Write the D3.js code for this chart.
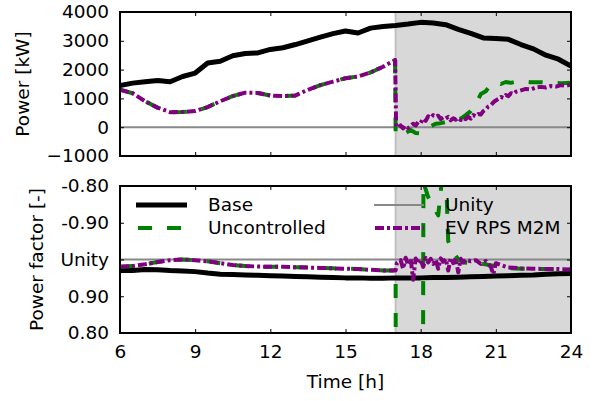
<!DOCTYPE html>
<html>
<head>
<meta charset="utf-8">
<script src="https://cdn.jsdelivr.net/npm/d3@7"></script>
<style>
  html, body { margin: 0; padding: 0; background: #fff; }
  svg { display: block; font-family: "DejaVu Sans", sans-serif; }
</style>
</head>
<body>
<svg id="chart" width="595" height="401"></svg>
<script>
// ---------------- DATA ----------------
const seriesNames = ["Base", "Uncontrolled", "Unity", "EV RPS M2M"];
const xTicks = [6, 9, 12, 15, 18, 21, 24];
const powerTicks = [-1000, 0, 1000, 2000, 3000, 4000];
const powerTickLabels = ["\u22121000", "0", "1000", "2000", "3000", "4000"];
const pfTicks = [-0.2, -0.1, 0, 0.1, 0.2];
const pfTickLabels = ["0.80", "0.90", "Unity", "-0.90", "-0.80"];
const shadeStart = 17, shadeEnd = 24;

// Base power [kW]
const baseHours = [6,6.5,7,7.5,8,8.5,9,9.5,10,10.5,11,11.5,12,12.5,13,13.5,14,14.5,15,15.5,16,16.5,17,17.5,18,18.5,19,19.5,20,20.5,21,21.5,22,22.5,23,23.5,24];
const basePower = [1450,1530,1580,1620,1580,1760,1880,2230,2290,2480,2560,2580,2700,2760,2870,3000,3130,3250,3340,3270,3440,3500,3530,3580,3640,3620,3560,3400,3260,3100,3080,3050,2870,2720,2500,2360,2120];
const basePF = [-0.030,-0.030,-0.027,-0.028,-0.030,-0.031,-0.033,-0.037,-0.040,-0.041,-0.042,-0.043,-0.044,-0.045,-0.046,-0.047,-0.048,-0.049,-0.050,-0.050,-0.051,-0.051,-0.050,-0.050,-0.050,-0.049,-0.049,-0.048,-0.047,-0.046,-0.045,-0.044,-0.043,-0.042,-0.040,-0.039,-0.038];

// Uncontrolled power [kW]
const uncHours = [6,6.5,7,7.5,8,8.5,9,9.5,10,10.5,11,11.5,12,12.5,13,13.5,14,14.5,15,15.5,16,16.5,16.98,17.0,17.2,17.4,17.6,17.8,18.0,18.2,18.4,18.6,18.8,19.0,19.2,19.4,19.6,19.8,20.0,20.2,20.4,20.6,20.8,21.0,21.2,21.4,21.6,21.8,22.0,22.4,22.8,23.2,23.6,24];
const uncPower = [1300,1180,900,680,520,530,560,700,900,1080,1200,1190,1100,1080,1100,1300,1460,1580,1700,1760,1900,2100,2330,-250,-150,-200,-100,-200,-220,-120,30,120,140,180,220,260,300,420,560,800,1150,1250,1480,1560,1500,1570,1540,1580,1600,1560,1560,1540,1530,1540];

// EV RPS M2M power [kW]
const evHours = [6,6.5,7,7.5,8,8.5,9,9.5,10,10.5,11,11.5,12,12.5,13,13.5,14,14.5,15,15.5,16,16.5,16.98,17.02,17.1,17.2,17.3,17.4,17.5,17.6,17.7,17.8,17.9,18.0,18.1,18.2,18.3,18.4,18.5,18.6,18.7,18.8,18.9,19.0,19.1,19.2,19.3,19.4,19.5,19.6,19.7,19.8,19.9,20.0,20.1,20.2,20.3,20.4,20.5,20.6,20.7,20.8,20.9,21.0,21.1,21.2,21.3,21.4,21.5,21.6,21.7,21.8,22.0,22.2,22.4,22.6,22.8,23.0,23.2,23.4,23.6,23.8,24];
const evPower = [1300,1180,900,680,520,530,560,700,900,1080,1200,1190,1100,1080,1100,1300,1460,1580,1700,1760,1900,2100,2330,80,-20,60,-40,50,-30,40,120,60,180,150,300,220,380,330,420,360,400,280,340,300,360,240,310,260,330,250,320,280,360,300,420,380,460,440,560,620,720,760,860,930,980,1050,1020,1120,1080,1180,1150,1230,1280,1330,1310,1380,1400,1380,1430,1410,1460,1440,1480];

// Power factor (Unity-centred scale, + = leading / negative PF)
const uncPFHours = [6,6.5,7,7.5,8,8.5,9,9.5,10,10.5,11,11.5,12,12.5,13,13.5,14,14.5,15,15.5,16,16.5,17.0,17.01,18.09,18.11,18.3,18.5,18.7,18.9,19.0,19.1,19.3,19.5,19.7,20.0,20.5,21.0,21.3,21.6,22.0,23.0,24];
const uncPF = [-0.020,-0.018,-0.013,-0.007,-0.002,0.000,-0.002,-0.005,-0.010,-0.015,-0.018,-0.019,-0.020,-0.020,-0.021,-0.022,-0.023,-0.024,-0.025,-0.026,-0.028,-0.030,-0.030,-0.40,-0.40,0.21,0.17,0.145,0.12,0.25,0.25,0.05,0.02,0.000,-0.008,-0.010,-0.012,-0.018,-0.022,-0.024,-0.025,-0.026,-0.027];

const evPFHours = [6,6.5,7,7.5,8,8.5,9,9.5,10,10.5,11,11.5,12,12.5,13,13.5,14,14.5,15,15.5,16,16.5,17.0,17.05,17.2,17.3,17.4,17.5,17.6,17.7,17.8,17.9,18.0,18.1,18.2,18.3,18.4,18.5,18.6,18.7,18.8,18.9,19.0,19.1,19.2,19.3,19.4,19.5,19.6,19.7,19.8,20.0,20.2,20.4,20.6,20.8,20.9,21.0,21.2,21.5,22.0,22.5,23.0,23.5,24];
const evPF = [-0.020,-0.018,-0.013,-0.007,-0.002,0.000,-0.002,-0.005,-0.010,-0.015,-0.018,-0.019,-0.020,-0.020,-0.021,-0.022,-0.023,-0.024,-0.025,-0.026,-0.028,-0.030,-0.030,-0.010,-0.002,-0.025,0.005,-0.015,0.002,-0.055,0.003,-0.010,0.000,-0.020,0.004,-0.008,0.002,-0.012,0.000,-0.025,0.003,-0.006,0.002,-0.030,0.004,-0.010,0.003,-0.035,0.002,-0.008,0.000,-0.005,-0.002,-0.012,-0.004,-0.020,-0.040,-0.010,-0.015,-0.022,-0.024,-0.025,-0.026,-0.026,-0.027];

// ---------------- STYLE ----------------
const colors = { base: "#000000", unc: "#008000", unity: "#888888", ev: "#800080" };
const FS = 18.5;
const plotLeft = 120, plotRight = 571;
const topPanel = { y0: 12, y1: 156 };
const botPanel = { y0: 186, y1: 333 };

const svg = d3.select("#chart");
const x = d3.scaleLinear().domain([6, 24]).range([plotLeft, plotRight]);
const yP = d3.scaleLinear().domain([-1000, 4000]).range([topPanel.y1, topPanel.y0]);
const yF = d3.scaleLinear().domain([-0.2, 0.2]).range([botPanel.y1, botPanel.y0]);

const defs = svg.append("defs");
[["clipTop", topPanel], ["clipBot", botPanel]].forEach(([id, p]) => {
  defs.append("clipPath").attr("id", id).append("rect")
    .attr("x", plotLeft).attr("y", p.y0).attr("width", plotRight - plotLeft).attr("height", p.y1 - p.y0);
});

function zip(hs, vs) { return hs.map((h, i) => [h, vs[i]]); }

function drawPanel(p, y, clipId, series, ticks, labels) {
  const g = svg.append("g");
  g.append("rect")
    .attr("x", x(shadeStart)).attr("y", p.y0)
    .attr("width", x(shadeEnd) - x(shadeStart)).attr("height", p.y1 - p.y0)
    .attr("fill", "#d8d8d8");
  g.append("line")
    .attr("x1", x(shadeStart)).attr("x2", x(shadeStart))
    .attr("y1", p.y0).attr("y2", p.y1)
    .attr("stroke", "#c0c0c0").attr("stroke-width", 2);

  const plot = g.append("g").attr("clip-path", `url(#${clipId})`);
  plot.append("line")
    .attr("x1", plotLeft).attr("x2", plotRight).attr("y1", y(0)).attr("y2", y(0))
    .attr("stroke", colors.unity).attr("stroke-width", 2);
  const line = d3.line().x(d => x(d[0])).y(d => y(d[1]));
  series.forEach(s => {
    plot.append("path").datum(s.data)
      .attr("d", line).attr("fill", "none")
      .attr("stroke", s.color).attr("stroke-width", s.width)
      .attr("stroke-dasharray", s.dash || null)
      .attr("stroke-linejoin", "round");
  });

  const ax = (gen) => gen.tickSizeInner(-4).tickSizeOuter(0);
  const fmt = (d) => labels[ticks.indexOf(d)];
  const yl = g.append("g").attr("transform", `translate(${plotLeft},0)`)
    .call(ax(d3.axisLeft(y).tickValues(ticks).tickFormat(fmt)).tickPadding(11));
  const yr = g.append("g").attr("transform", `translate(${plotRight},0)`)
    .call(ax(d3.axisRight(y).tickValues(ticks).tickFormat("")));
  const xt = g.append("g").attr("transform", `translate(0,${p.y0})`)
    .call(ax(d3.axisTop(x).tickValues(xTicks).tickFormat("")));
  const xb = g.append("g").attr("transform", `translate(0,${p.y1})`)
    .call(ax(d3.axisBottom(x).tickValues(xTicks)).tickPadding(12));
  [yl, yr, xt, xb].forEach(a => {
    a.select(".domain").remove();
    a.selectAll("text").attr("font-size", FS).attr("font-family", "DejaVu Sans").attr("fill", "#000");
    a.selectAll("line").attr("stroke", "#000").attr("stroke-width", 1);
  });
  g.append("rect").attr("x", plotLeft).attr("y", p.y0)
    .attr("width", plotRight - plotLeft).attr("height", p.y1 - p.y0)
    .attr("fill", "none").attr("stroke", "#000").attr("stroke-width", 2);
  return { g, xb };
}

const topP = drawPanel(topPanel, yP, "clipTop", [
  { data: zip(baseHours, basePower), color: colors.base, width: 5 },
  { data: zip(uncHours, uncPower), color: colors.unc, width: 4, dash: "14,15" },
  { data: zip(evHours, evPower), color: colors.ev, width: 4, dash: "9,3,3,3" }
], powerTicks, powerTickLabels);
topP.xb.selectAll("text").remove();

const botP = drawPanel(botPanel, yF, "clipBot", [
  { data: zip(baseHours, basePF), color: colors.base, width: 5 },
  { data: zip(uncPFHours, uncPF), color: colors.unc, width: 4, dash: "14,15" },
  { data: zip(evPFHours, evPF), color: colors.ev, width: 4, dash: "9,3,3,3" }
], pfTicks, pfTickLabels);

svg.append("text").attr("transform", `translate(23,${(topPanel.y0 + topPanel.y1) / 2}) rotate(-90)`)
  .attr("text-anchor", "middle").attr("dy", "0.35em").attr("font-size", FS).text("Power [kW]");
svg.append("text").attr("transform", `translate(37,${(botPanel.y0 + botPanel.y1) / 2}) rotate(-90)`)
  .attr("text-anchor", "middle").attr("dy", "0.35em").attr("font-size", FS).text("Power factor [-]");
svg.append("text").attr("x", (plotLeft + plotRight) / 2).attr("y", 382)
  .attr("text-anchor", "middle").attr("dy", "0.35em").attr("font-size", FS).text("Time [h]");

const legendItems = [
  { name: seriesNames[0], color: colors.base, width: 5, dash: null, lx: 136, ly: 205 },
  { name: seriesNames[1], color: colors.unc, width: 4, dash: "14,15", lx: 138, ly: 228 },
  { name: seriesNames[2], color: colors.unity, width: 2, dash: null, lx: 374, ly: 205 },
  { name: seriesNames[3], color: colors.ev, width: 4, dash: "9,3,3,3", lx: 375, ly: 228 }
];
const lg = svg.append("g");
legendItems.forEach((d, i) => {
  const col = i < 2 ? 0 : 1;
  const lineEnd = col === 0 ? 187 : 424;
  const textX = col === 0 ? 208 : 445;
  lg.append("line").attr("x1", d.lx).attr("x2", lineEnd).attr("y1", d.ly).attr("y2", d.ly)
    .attr("stroke", d.color).attr("stroke-width", d.width).attr("stroke-dasharray", d.dash);
  lg.append("text").attr("x", textX).attr("y", d.ly).attr("dy", "0.35em")
    .attr("font-size", FS).attr("fill", "#000").text(d.name);
});
</script>
</body>
</html>
